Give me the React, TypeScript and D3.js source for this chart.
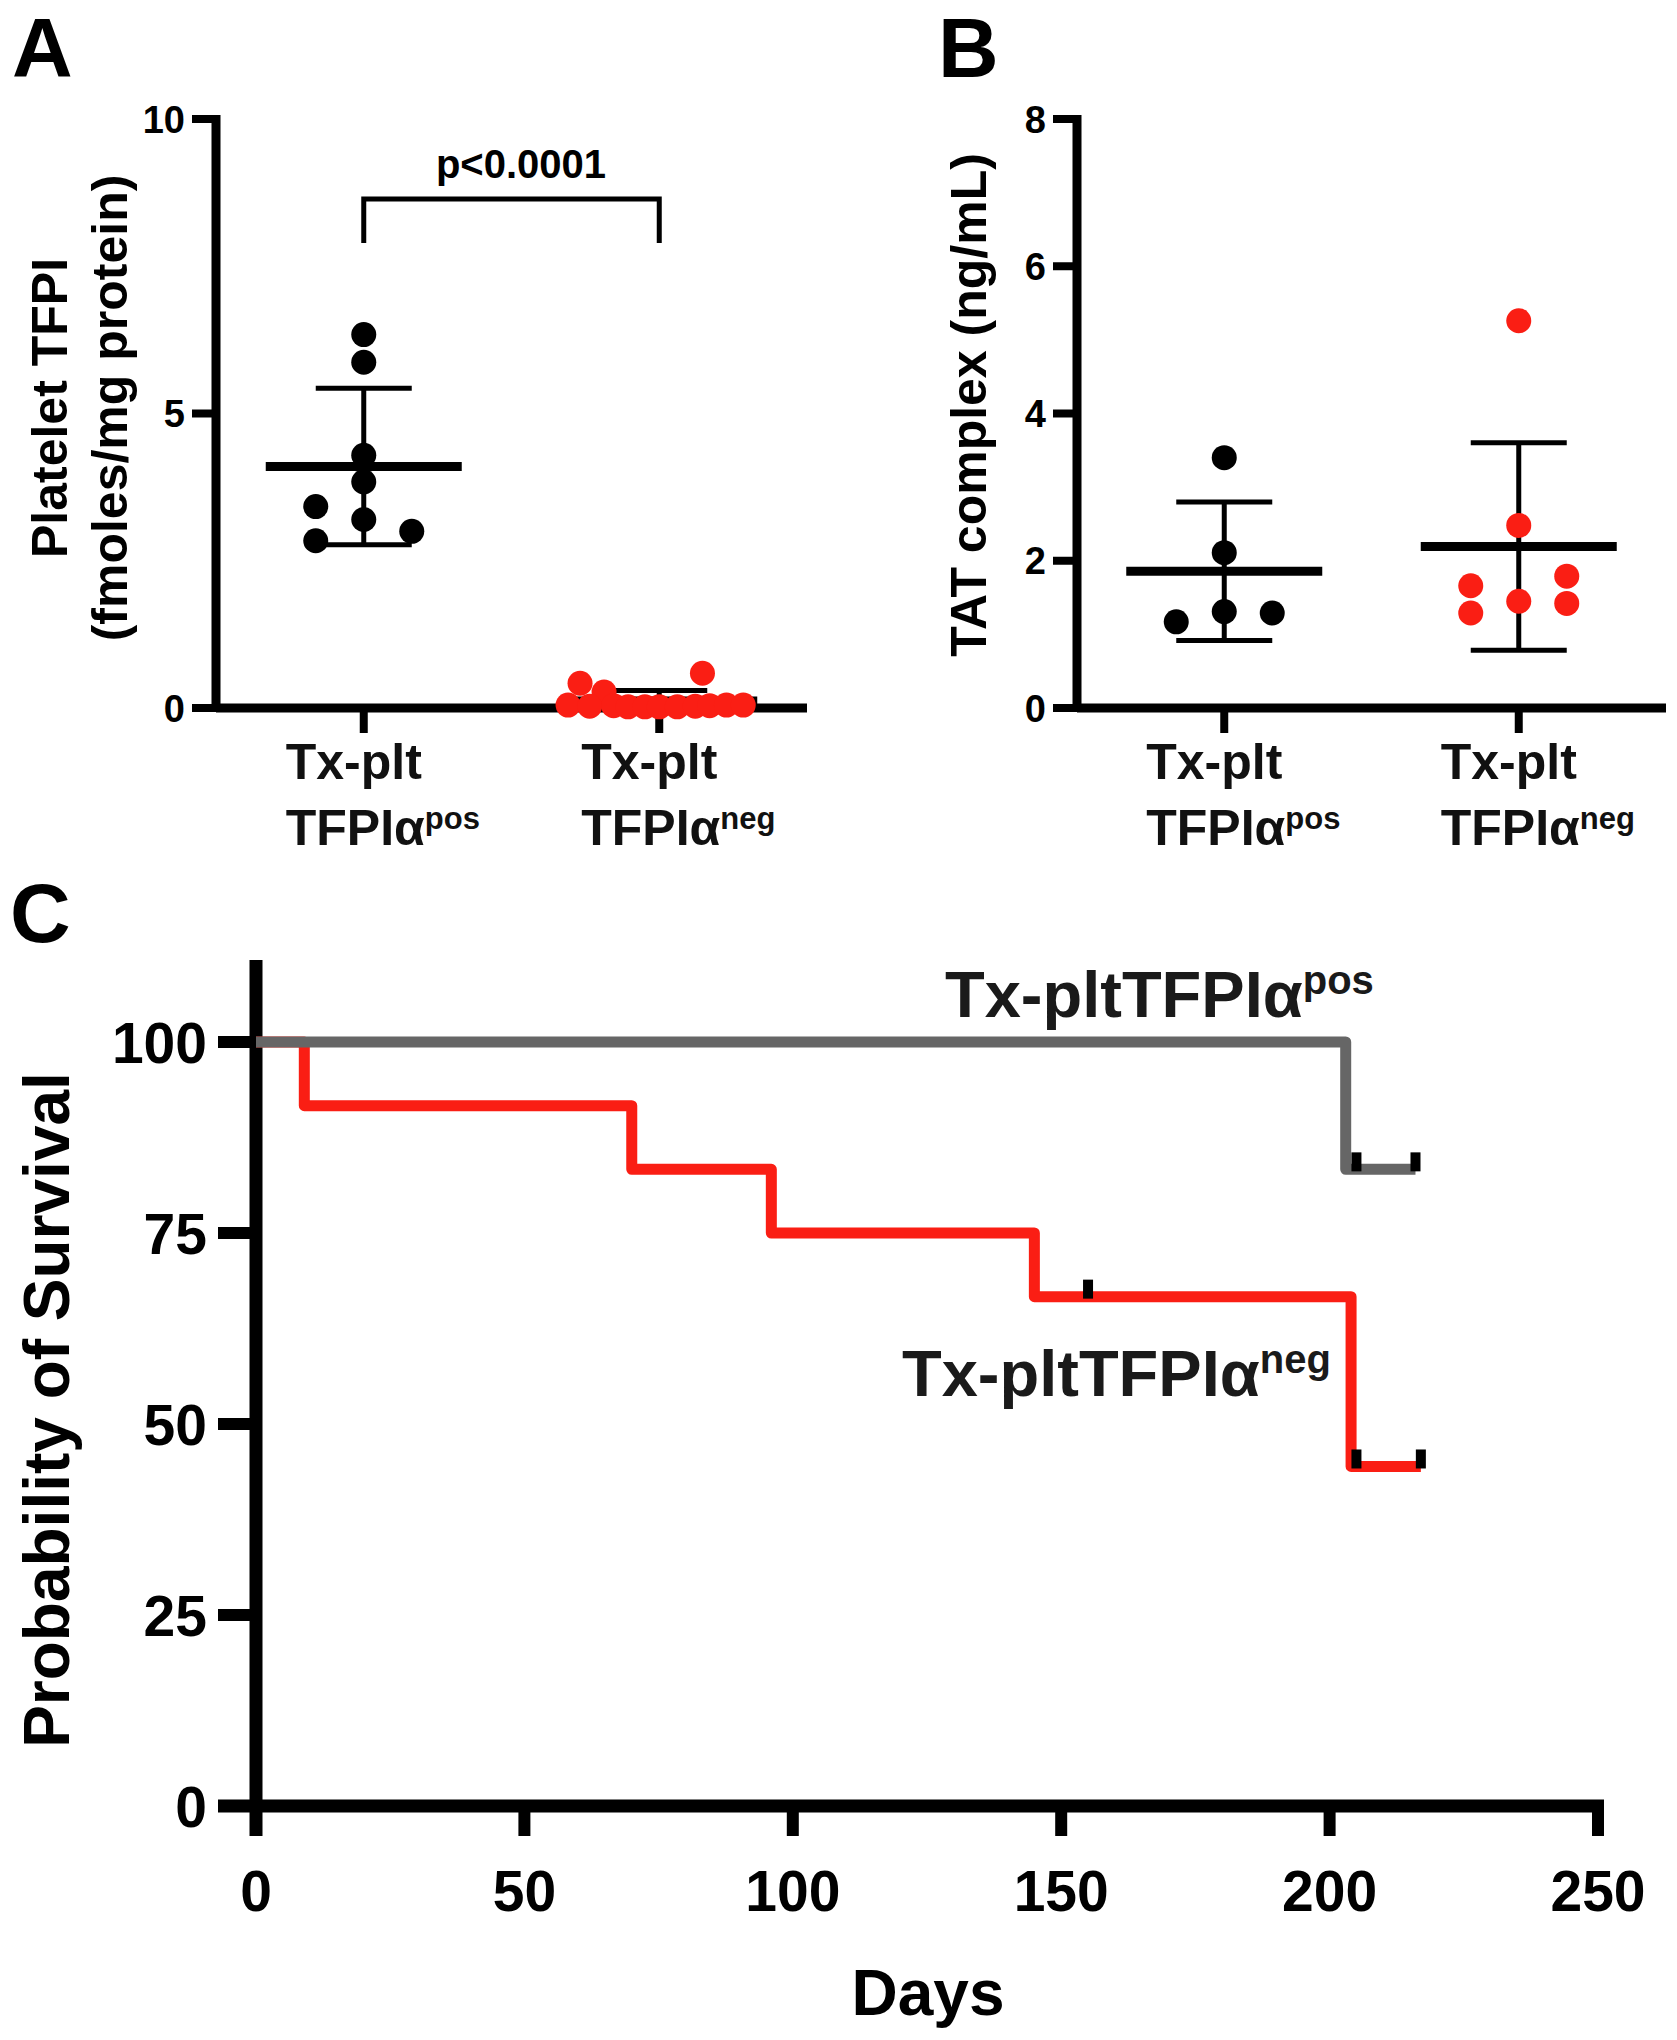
import * as d3 from "d3";

const FONT = "'Liberation Sans', Arial, Helvetica, sans-serif";
const RED = "#fa1e14";
const GREY = "#666666";

// categories shared by panels A and B
const groups = ["pos", "neg"];

// Panel A: platelet TFPI (fmoles/mg protein)
const tfpiPos = [6.34, 5.87, 4.29, 3.84, 3.42, 3.2, 2.84, 3.0];
const tfpiPosSlot = [0, 0, 0, 0, -2, 0, -2, 2];
const tfpiNeg = [0.59, 0.42, 0.27, 0.05, 0.03, 0.04, 0.02, 0.02, 0.02, 0.02, 0.03, 0.04, 0.05, 0.05];
const tfpiNegSlot = [1.8, -3.3, -2.3, -3.8, -2.9, -1.9, -1.3, -0.6, 0, 0.75, 1.5, 2.1, 2.8, 3.5];
const tfpiTicks = [0, 5, 10];

// Panel B: TAT complex (ng/mL)
const tatPos = [3.4, 2.11, 1.31, 1.17, 1.29];
const tatPosSlot = [0, 0, 0, -2, 2];
const tatNeg = [5.26, 2.48, 1.45, 1.66, 1.29, 1.79, 1.42];
const tatNegSlot = [0, 0, 0, -2, -2, 2, 2];
const tatTicks = [0, 2, 4, 6, 8];

// Panel C: Kaplan-Meier survival
const negTimes = [0, 9, 70, 96, 145, 204];
const negSurv = [100, 91.67, 83.33, 75, 66.67, 44.44];
const negEnd = 217;
const negCensor = [155, 205, 217];
const posTimes = [0, 203];
const posSurv = [100, 83.33];
const posEnd = 216;
const posCensor = [205, 216];
const survTicks = [0, 25, 50, 75, 100];
const dayTicks = [0, 50, 100, 150, 200, 250];

const DOT_R = 12.5;
const SLOT = 24;

type Series = { values: number[]; slots: number[]; color: string };

function GroupLabel({ x, sup }: { x: number; sup: string }) {
  return (
    <text x={x - 78} fontFamily={FONT} fontWeight="bold" fontSize={50} fill="#111">
      <tspan x={x - 78} y={779}>Tx-plt</tspan>
      <tspan x={x - 78} y={845}>TFPIα</tspan>
      <tspan fontSize={31} dy={-16}>{sup}</tspan>
    </text>
  );
}

function DotPanel({
  x0,
  x1,
  yMax,
  ticks,
  series,
}: {
  x0: number;
  x1: number;
  yMax: number;
  ticks: number[];
  series: Series[];
}) {
  const y = d3.scaleLinear().domain([0, yMax]).range([708, 119]);
  const x = d3.scalePoint<string>().domain(groups).range([x0, x1]).padding(0.5);
  return (
    <g>
      {/* axes */}
      <line x1={x0} x2={x0} y1={y(yMax) - 4} y2={y(0) + 4} stroke="#000" strokeWidth={9} />
      <line x1={x0} x2={x1} y1={y(0)} y2={y(0)} stroke="#000" strokeWidth={9} />
      {ticks.map((t) => (
        <g key={t}>
          <line x1={x0 - 24} x2={x0} y1={y(t)} y2={y(t)} stroke="#000" strokeWidth={8} />
          <text
            x={x0 - 31}
            y={y(t)}
            dy="0.36em"
            textAnchor="end"
            fontFamily={FONT}
            fontWeight="bold"
            fontSize={38}
          >
            {t}
          </text>
        </g>
      ))}
      {groups.map((g) => (
        <line key={g} x1={x(g)} x2={x(g)} y1={y(0)} y2={y(0) + 25} stroke="#000" strokeWidth={8} />
      ))}
      {series.map((s, i) => {
        const cx = x(groups[i]) as number;
        const m = d3.mean(s.values) as number;
        const sd = d3.deviation(s.values) as number;
        const lo = Math.max(0, m - sd);
        return (
          <g key={i}>
            <line x1={cx} x2={cx} y1={y(m + sd)} y2={y(lo)} stroke="#000" strokeWidth={5} />
            <line x1={cx - 48} x2={cx + 48} y1={y(m + sd)} y2={y(m + sd)} stroke="#000" strokeWidth={5} />
            {m - sd > 0 && (
              <line x1={cx - 48} x2={cx + 48} y1={y(lo)} y2={y(lo)} stroke="#000" strokeWidth={5} />
            )}
            <line x1={cx - 98} x2={cx + 98} y1={y(m)} y2={y(m)} stroke="#000" strokeWidth={9} />
            {s.values.map((v, j) => (
              <circle key={j} cx={cx + s.slots[j] * SLOT} cy={y(v)} r={DOT_R} fill={s.color} />
            ))}
          </g>
        );
      })}
      <GroupLabel x={x("pos") as number} sup="pos" />
      <GroupLabel x={x("neg") as number} sup="neg" />
    </g>
  );
}

export default function App() {
  const xC = d3.scaleLinear().domain([0, 250]).range([256, 1598]);
  const yC = d3.scaleLinear().domain([0, 100]).range([1806, 1042]);
  const step = d3
    .line<[number, number]>()
    .x((d) => xC(d[0]))
    .y((d) => yC(d[1]))
    .curve(d3.curveStepAfter);

  const negPts: [number, number][] = negTimes.map((t, i) => [t, negSurv[i]]);
  negPts.push([negEnd, negSurv[negSurv.length - 1]]);
  const posPts: [number, number][] = posTimes.map((t, i) => [t, posSurv[i]]);
  posPts.push([posEnd, posSurv[posSurv.length - 1]]);

  // survival value at a time, for placing censor marks
  const survAt = (times: number[], surv: number[], t: number) => {
    let s = surv[0];
    times.forEach((tt, i) => {
      if (tt <= t) s = surv[i];
    });
    return s;
  };

  // x-position of group centre in panel A (for the bracket)
  const xA = d3.scalePoint<string>().domain(groups).range([216, 807]).padding(0.5);

  return (
    <svg
      width={1677}
      height={2040}
      style={{ position: "absolute", left: 0, top: 0, background: "#fff" }}
    >
      <rect width={1677} height={2040} fill="#fff" />

      {/* panel letters */}
      <g fontFamily={FONT} fontWeight="bold" fontSize={84}>
        <text x={12} y={77}>A</text>
        <text x={938} y={77}>B</text>
        <text x={10} y={942}>C</text>
      </g>

      {/* Panel A */}
      <DotPanel
        x0={216}
        x1={807}
        yMax={10}
        ticks={tfpiTicks}
        series={[
          { values: tfpiPos, slots: tfpiPosSlot, color: "#000" },
          { values: tfpiNeg, slots: tfpiNegSlot, color: RED },
        ]}
      />
      <g fontFamily={FONT} fontWeight="bold" fontSize={50} textAnchor="middle">
        <text transform="translate(67,408) rotate(-90)">Platelet TFPI</text>
        <text transform="translate(127,408) rotate(-90)">(fmoles/mg protein)</text>
      </g>
      <path
        d={`M${xA("pos")},243V199H${xA("neg")}V243`}
        fill="none"
        stroke="#000"
        strokeWidth={5}
      />
      <text x={521} y={178} textAnchor="middle" fontFamily={FONT} fontWeight="bold" fontSize={40}>
        p&lt;0.0001
      </text>

      {/* Panel B */}
      <DotPanel
        x0={1077}
        x1={1666}
        yMax={8}
        ticks={tatTicks}
        series={[
          { values: tatPos, slots: tatPosSlot, color: "#000" },
          { values: tatNeg, slots: tatNegSlot, color: RED },
        ]}
      />
      <text
        transform="translate(986,405) rotate(-90)"
        textAnchor="middle"
        fontFamily={FONT}
        fontWeight="bold"
        fontSize={50}
      >
        TAT complex (ng/mL)
      </text>

      {/* Panel C */}
      <g>
        <line x1={256} x2={256} y1={960} y2={1836} stroke="#000" strokeWidth={13} />
        <line x1={218} x2={xC(250) + 6} y1={yC(0)} y2={yC(0)} stroke="#000" strokeWidth={13} />
        {survTicks.map((t) => (
          <g key={t}>
            <line x1={218} x2={256} y1={yC(t)} y2={yC(t)} stroke="#000" strokeWidth={12} />
            <text
              x={207}
              y={yC(t)}
              dy="0.36em"
              textAnchor="end"
              fontFamily={FONT}
              fontWeight="bold"
              fontSize={57}
            >
              {t}
            </text>
          </g>
        ))}
        {dayTicks.map((t) => (
          <g key={t}>
            <line x1={xC(t)} x2={xC(t)} y1={yC(0)} y2={1836} stroke="#000" strokeWidth={12} />
            <text
              x={xC(t)}
              y={1911}
              textAnchor="middle"
              fontFamily={FONT}
              fontWeight="bold"
              fontSize={57}
            >
              {t}
            </text>
          </g>
        ))}
        <path d={step(negPts) ?? ""} fill="none" stroke={RED} strokeWidth={11} strokeLinejoin="round" />
        <path d={step(posPts) ?? ""} fill="none" stroke={GREY} strokeWidth={11} strokeLinejoin="round" />
        {negCensor.map((t, i) => (
          <rect
            key={"n" + i}
            x={xC(t) - 5}
            y={yC(survAt(negTimes, negSurv, t)) - 17}
            width={10}
            height={19}
            fill="#000"
          />
        ))}
        {posCensor.map((t, i) => (
          <rect
            key={"p" + i}
            x={xC(t) - 5}
            y={yC(survAt(posTimes, posSurv, t)) - 17}
            width={10}
            height={19}
            fill="#000"
          />
        ))}
        <g fontFamily={FONT} fontWeight="bold" fontSize={65} fill="#1a1a1a">
          <text x={945} y={1017}>
            Tx-pltTFPIα<tspan fontSize={40} dy={-23}>pos</tspan>
          </text>
          <text x={902} y={1396}>
            Tx-pltTFPIα<tspan fontSize={40} dy={-23}>neg</tspan>
          </text>
        </g>
        <text
          transform="translate(69,1410) rotate(-90)"
          textAnchor="middle"
          fontFamily={FONT}
          fontWeight="bold"
          fontSize={64}
        >
          Probability of Survival
        </text>
        <text x={928} y={2015} textAnchor="middle" fontFamily={FONT} fontWeight="bold" fontSize={64}>
          Days
        </text>
      </g>
    </svg>
  );
}
